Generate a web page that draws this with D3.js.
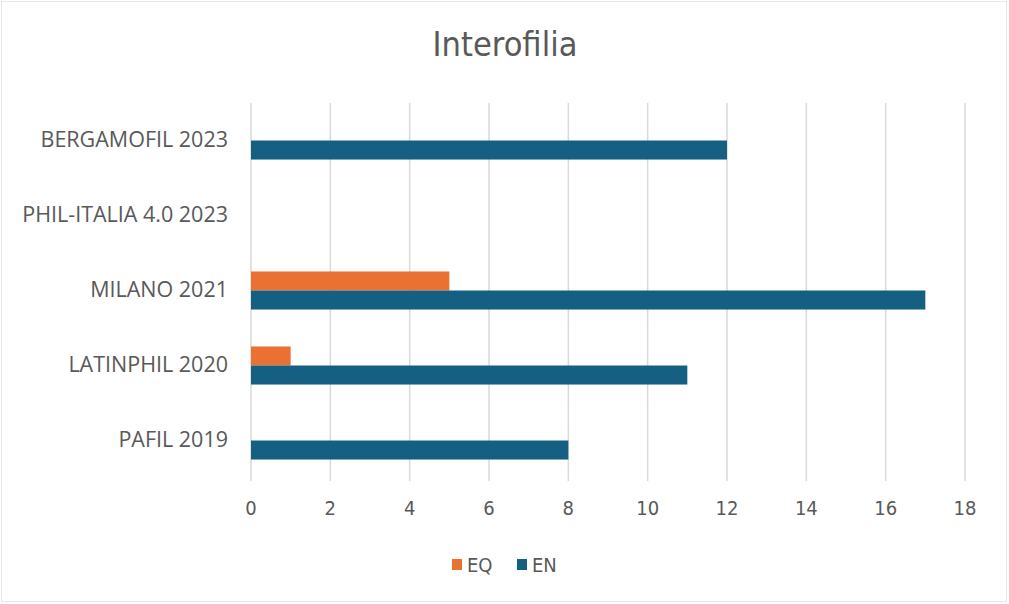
<!DOCTYPE html>
<html>
<head>
<meta charset="utf-8">
<script src="https://cdn.jsdelivr.net/npm/d3@7"></script>
<style>
  body { margin: 0; background: #fff; }
</style>
</head>
<body>
<script>
// data
var categories = ["BERGAMOFIL 2023", "PHIL-ITALIA 4.0 2023", "MILANO 2021", "LATINPHIL 2020", "PAFIL 2019"];
var seriesNames = ["EQ", "EN"];
var eqValues = [0, 0, 5, 1, 0];
var enValues = [12, 0, 17, 11, 8];
var xTicks = [0, 2, 4, 6, 8, 10, 12, 14, 16, 18];
var colors = ["#E97132", "#156082"];

var width = 1009, height = 604;
var plotLeft = 251, plotRight = 965, plotTop = 103, plotBottom = 478;
var textColor = "#595959";
var narrow = "'Liberation Sans Narrow', 'DejaVu Sans Condensed', sans-serif";

var rows = categories.map(function(c, i){
    return {name: c, values: [eqValues[i], enValues[i]]};
});

var svg = d3.select("body").append("svg")
    .attr("width", width)
    .attr("height", height);

// chart border
svg.append("rect")
    .attr("x", 1.5).attr("y", 1.5)
    .attr("width", width - 4).attr("height", height - 4)
    .attr("fill", "#fff")
    .attr("stroke", "#e6e6e6");

var x = d3.scaleLinear().domain([0, 18]).range([plotLeft, plotRight]);
var y = d3.scaleBand().domain(categories).range([plotTop, plotBottom]);
var ySub = d3.scaleBand().domain(seriesNames)
    .range([0, y.bandwidth()])
    .paddingInner(0).paddingOuter(0.97);

// gridlines
svg.append("g")
    .selectAll("line")
    .data(xTicks)
    .join("line")
      .attr("x1", d => x(d)).attr("x2", d => x(d))
      .attr("y1", plotTop).attr("y2", plotBottom + 3)
      .attr("stroke", "#d9d9d9")
      .attr("stroke-width", 1.5);

// bars
svg.append("g")
    .selectAll("g")
    .data(rows)
    .join("g")
      .attr("transform", d => `translate(0,${y(d.name)})`)
    .selectAll("rect")
    .data(d => d.values.map((v, i) => ({key: seriesNames[i], value: v, i: i})))
    .join("rect")
      .attr("x", x(0))
      .attr("y", d => ySub(d.key))
      .attr("width", d => x(d.value) - x(0))
      .attr("height", ySub.bandwidth())
      .attr("fill", d => colors[d.i]);

// category labels
svg.append("g")
    .attr("font-family", "'Open Sans', sans-serif")
    .attr("font-size", 21.5)
    .attr("fill", textColor)
    .attr("text-anchor", "end")
    .selectAll("text")
    .data(categories)
    .join("text")
      .attr("x", 228)
      .attr("y", d => y(d) + y.bandwidth() / 2 - 1)
      .attr("dy", "0.35em")
      .text(d => d);

// x tick labels
svg.append("g")
    .attr("font-family", narrow)
    .attr("font-size", 20)
    .attr("fill", textColor)
    .attr("text-anchor", "middle")
    .selectAll("text")
    .data(xTicks)
    .join("text")
      .attr("x", d => x(d))
      .attr("y", 508)
      .attr("dy", "0.35em")
      .text(d => d);

// title
svg.append("text")
    .attr("x", 505)
    .attr("y", 44)
    .attr("dy", "0.35em")
    .attr("text-anchor", "middle")
    .attr("font-family", narrow)
    .attr("font-size", 34)
    .attr("fill", textColor)
    .text("Interofilia");

// legend
var legend = svg.append("g")
    .attr("font-family", narrow)
    .attr("font-size", 20)
    .attr("fill", textColor)
    .selectAll("g")
    .data(seriesNames)
    .join("g")
      .attr("transform", (d, i) => `translate(${452 + i * 65},565)`);
legend.append("rect")
    .attr("x", 0).attr("y", -6)
    .attr("width", 10).attr("height", 11)
    .attr("fill", (d, i) => colors[i]);
legend.append("text")
    .attr("x", 15)
    .attr("dy", "0.35em")
    .text(d => d);
</script>
</body>
</html>
